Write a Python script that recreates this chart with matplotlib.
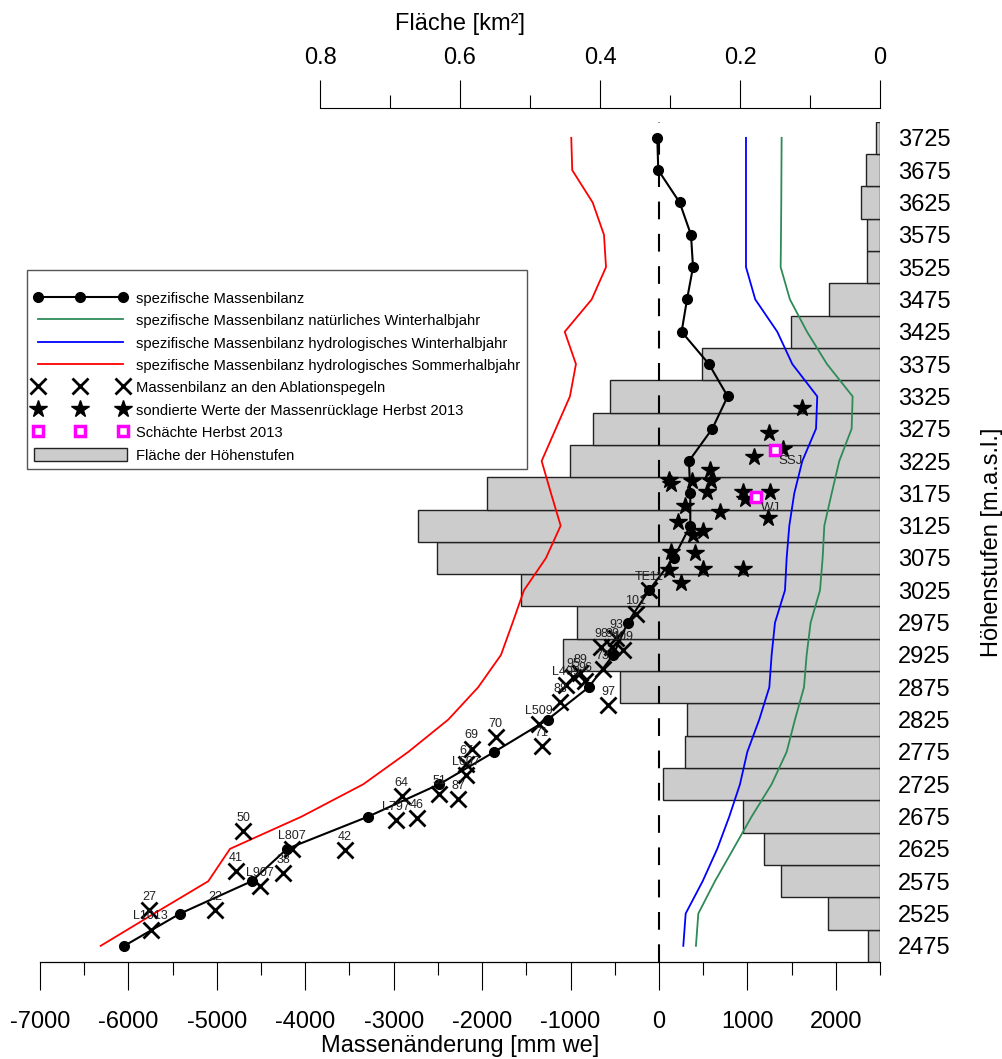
import matplotlib
matplotlib.use('Agg')
import matplotlib.pyplot as plt
from matplotlib.lines import Line2D
from matplotlib.patches import Patch
from matplotlib.ticker import FixedLocator

plt.rcParams['font.family'] = ['Liberation Sans', 'DejaVu Sans']
plt.rcParams['axes.unicode_minus'] = False

# Höhenstufen (Mitte der 50-m-Stufe)
hoehe = [2475, 2525, 2575, 2625, 2675, 2725, 2775, 2825, 2875, 2925, 2975, 3025, 3075,
         3125, 3175, 3225, 3275, 3325, 3375, 3425, 3475, 3525, 3575, 3625, 3675, 3725]

# Fläche der Höhenstufen [km²]
flaeche = [0.017, 0.074, 0.141, 0.166, 0.196, 0.310, 0.279, 0.276, 0.371, 0.453, 0.433, 0.513, 0.633,
           0.660, 0.561, 0.443, 0.410, 0.386, 0.254, 0.127, 0.073, 0.019, 0.019, 0.027, 0.020, 0.006]

# spezifische Massenbilanz [mm we]
mb_jahr = [-6047, -5414, -4606, -4207, -3288, -2485, -1863, -1259, -795, -517, -354, -113, 166,
           354, 354, 339, 603, 777, 565, 256, 317, 385, 362, 234, -8, -19]
mb_winter_nat = [418, 445, 633, 841, 1048, 1274, 1444, 1538, 1640, 1670, 1715, 1821, 1851,
                 1870, 1953, 2039, 2179, 2190, 1900, 1674, 1481, 1376, 1380, 1383, 1385, 1387]
mb_winter_hyd = [275, 302, 494, 659, 795, 916, 999, 1134, 1248, 1274, 1312, 1425, 1444,
                 1474, 1530, 1621, 1776, 1790, 1508, 1338, 1089, 984, 984, 984, 984, 984]
mb_sommer_hyd = [-6314, -5709, -5097, -4852, -4041, -3344, -2835, -2383, -2045, -1787, -1655, -1527, -1278,
                 -1112, -1221, -1327, -1167, -1007, -939, -1066, -761, -599, -622, -750, -981, -992]

# Ablationspegel
pegel_name = ['27', 'L1013', '22', '41', 'L907', '38', '50', 'L807', '42', '64', 'L797', '46', '51', '87',
              'L607', '67', '69', '70', '71', 'L509', '88', '97', 'L409', '96', '95', '89', '73',
              '98', '99', '109', '93', '101', 'TE11']
pegel_mb = [-5768, -5750, -5021, -4787, -4513, -4249, -4701, -4154, -3551, -2910, -2978, -2740, -2485, -2270,
            -2183, -2183, -2119, -1846, -1327, -1354, -1120, -573, -1052, -837, -973, -893, -637,
            -656, -532, -407, -486, -264, -110]
pegel_hoehe = [2530, 2500, 2530, 2590, 2568, 2587, 2652, 2625, 2623, 2707, 2670, 2673, 2710, 2702,
               2739, 2756, 2780, 2798, 2784, 2818, 2852, 2847, 2878, 2884, 2891, 2897, 2903,
               2937, 2937, 2933, 2951, 2988, 3025]

# sondierte Werte der Massenrücklage Herbst 2013
sonde_mb = [1621, 1240, 1399, 1078, 573, 113, 132, 377, 588, 543, 953, 976, 1255, 294, 690, 1236,
            218, 381, 494, 136, 411, 117, 494, 946, 245]
sonde_hoehe = [3307, 3268, 3243, 3231, 3211, 3196, 3189, 3194, 3194, 3177, 3177, 3167, 3177, 3156, 3146, 3137,
               3131, 3110, 3117, 3084, 3083, 3057, 3058, 3058, 3037]

# Schächte Herbst 2013
schacht_name = ['SSJ', 'WJ']
schacht_mb = [1312, 1093]
schacht_hoehe = [3242, 3169]

fig = plt.figure(figsize=(10.03, 10.59), dpi=100)
ax = fig.add_axes([0.0399, 0.0916, 0.8375, 0.7935])
ax2 = ax.twiny()

# Flächen als Balken (obere Achse, von rechts nach links)
ax2.barh(hoehe, flaeche, height=50, left=0, color='#cccccc', edgecolor='#222222', linewidth=1.0)
ax2.set_xlim(1.2, 0)
ax2.xaxis.set_major_locator(FixedLocator([0, 0.2, 0.4, 0.6, 0.8]))
ax2.xaxis.set_minor_locator(FixedLocator([0.1, 0.3, 0.5, 0.7]))
ax2.set_xticklabels(['0', '0.2', '0.4', '0.6', '0.8'])
for s in ['bottom', 'left', 'right']:
    ax2.spines[s].set_visible(False)
ax2.spines['top'].set_position(('outward', 10))
ax2.spines['top'].set_bounds(0, 0.8)
ax2.tick_params(axis='x', which='major', length=20, width=0.8, labelsize=17, pad=8)
ax2.tick_params(axis='x', which='minor', length=9.5, width=0.8)
ax2.set_xlabel('Fläche [km²]', fontsize=17, labelpad=12)

ax.set_zorder(ax2.get_zorder() + 1)
ax.patch.set_visible(False)

# Linien
ax.axvline(0, color='black', lw=1.5, ls=(0, (8.5, 7)), zorder=2)
ax.plot(mb_sommer_hyd, hoehe, color='#ff0000', lw=1.3)
ax.plot(mb_winter_hyd, hoehe, color='#0000ff', lw=1.3)
ax.plot(mb_winter_nat, hoehe, color='#2e8b57', lw=1.3)
ax.plot(mb_jahr, hoehe, '-o', color='black', lw=1.5, ms=7, zorder=4)

ax.plot(pegel_mb, pegel_hoehe, 'x', color='black', ms=11, mew=2, ls='none', zorder=5)
for name, x, y in zip(pegel_name, pegel_mb, pegel_hoehe):
    ax.annotate(name, (x, y), xytext=(0, 9.5), textcoords='offset points',
                ha='center', va='center', fontsize=9, color='#222222', zorder=6)

ax.plot(sonde_mb, sonde_hoehe, '*', color='black', ms=13, ls='none', zorder=5)
ax.plot(schacht_mb, schacht_hoehe, 's', mfc='white', mec='#ff00ff', mew=2.5, ms=7, ls='none', zorder=6)
for name, x, y in zip(schacht_name, schacht_mb, schacht_hoehe):
    ax.annotate(name, (x, y), xytext=(11, -8), textcoords='offset points',
                ha='center', va='center', fontsize=9.5, color='#222222', zorder=6)

ax.set_xlim(-7000, 2500)
ax.set_ylim(2450, 3750)
ax.set_xticks(range(-7000, 2001, 1000))
ax.set_xticks(range(-6500, 2501, 1000), minor=True)
ax.tick_params(axis='x', which='major', length=20, width=0.8, labelsize=17, pad=15)
ax.tick_params(axis='x', which='minor', length=9.5, width=0.8)
ax.set_xlabel('Massenänderung [mm we]', fontsize=17, labelpad=2)

ax.yaxis.tick_right()
ax.yaxis.set_label_position('right')
ax.set_yticks(hoehe)
ax.tick_params(axis='y', length=0, labelsize=17, pad=13)
ax.set_ylabel('Höhenstufen [m.a.s.l.]', fontsize=17, labelpad=22)
for s in ['top', 'left', 'right']:
    ax.spines[s].set_visible(False)
ax.spines['bottom'].set_linewidth(0.9)

handles = [
    Line2D([], [], color='black', lw=1.5, marker='o', ms=7),
    Line2D([], [], color='#2e8b57', lw=1.3),
    Line2D([], [], color='#0000ff', lw=1.3),
    Line2D([], [], color='#ff0000', lw=1.3),
    Line2D([], [], color='black', marker='x', ms=11, mew=2, ls='none'),
    Line2D([], [], color='black', marker='*', ms=13, ls='none'),
    Line2D([], [], marker='s', mfc='white', mec='#ff00ff', mew=2.5, ms=7, ls='none'),
    Patch(facecolor='#cccccc', edgecolor='#222222', linewidth=1.0),
]
labels = [
    'spezifische Massenbilanz',
    'spezifische Massenbilanz natürliches Winterhalbjahr',
    'spezifische Massenbilanz hydrologisches Winterhalbjahr',
    'spezifische Massenbilanz hydrologisches Sommerhalbjahr',
    'Massenbilanz an den Ablationspegeln',
    'sondierte Werte der Massenrücklage Herbst 2013',
    'Schächte Herbst 2013',
    'Fläche der Höhenstufen',
]
leg = ax.legend(handles, labels, loc='upper left', bbox_to_anchor=(27 / 1003, 1 - 270 / 1059),
                bbox_transform=fig.transFigure, numpoints=3, fontsize=10.6, frameon=True,
                fancybox=False, edgecolor='#555555', framealpha=1, handlelength=6.35,
                handletextpad=0.6, labelspacing=0.51, handleheight=1.05, borderpad=0.45,
                borderaxespad=0, title=' ', title_fontsize=5.5)
leg.get_frame().set_linewidth(1.0)
leg.set_zorder(10)

fig.savefig('out.png', dpi=100)
